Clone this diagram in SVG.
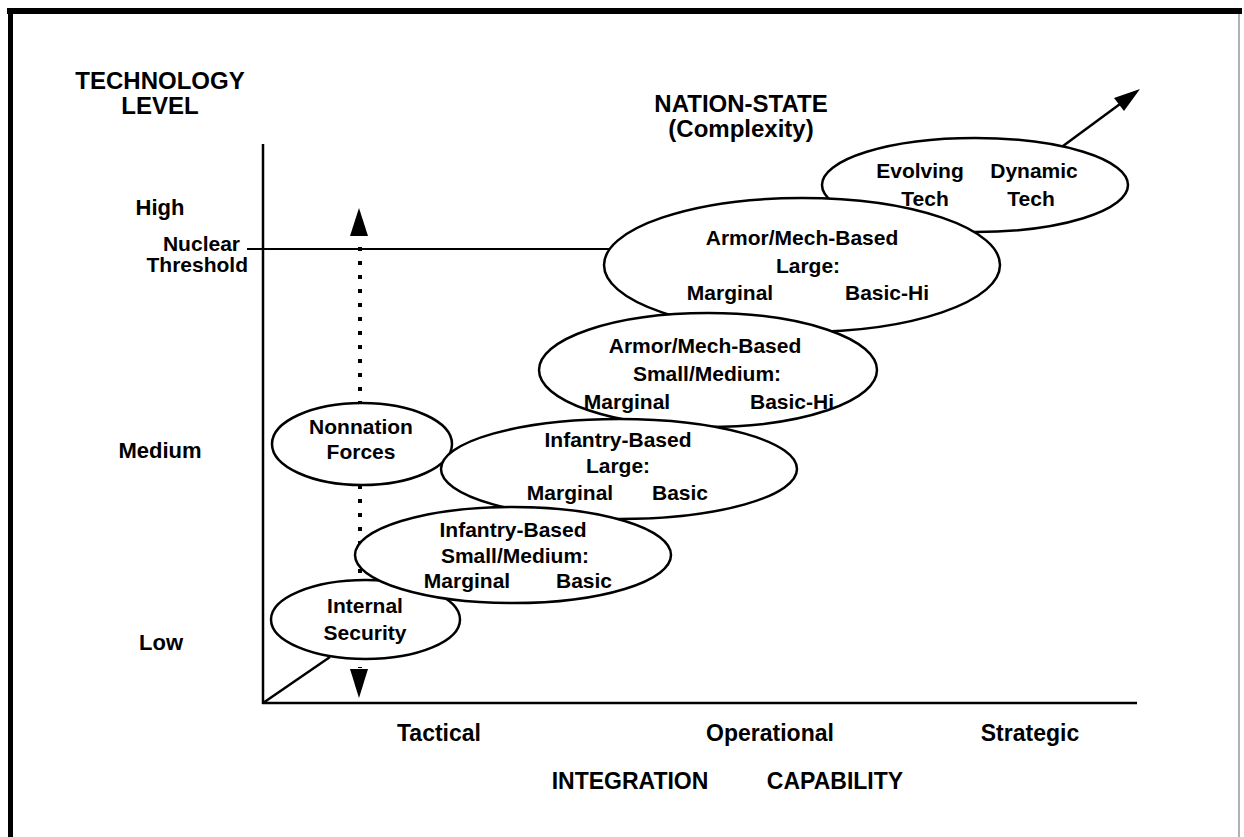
<svg xmlns="http://www.w3.org/2000/svg" width="1244" height="837" viewBox="0 0 1244 837">
<defs>
<style>
.t{font-family:"Liberation Sans",Arial,sans-serif;font-weight:bold;font-size:21px;fill:#000}
.h{font-size:23px}
.c{text-anchor:middle}
.r{text-anchor:end}
.e{fill:#fff;stroke:#000;stroke-width:2.5}
.ln{stroke:#000;stroke-width:2.5;fill:none}
</style>
</defs>
<rect width="1244" height="837" fill="#fff"/>
<g id="frame">
<line x1="7" y1="11" x2="1242" y2="11" stroke="#000" stroke-width="6"/>
<line x1="10.5" y1="8" x2="10.5" y2="837" stroke="#000" stroke-width="5"/>
<line x1="1239" y1="14" x2="1239" y2="837" stroke="#999" stroke-width="1.5"/>
</g>
<g id="axes">
<line class="ln" x1="263" y1="144" x2="263" y2="704"/>
<line class="ln" x1="262" y1="703" x2="1137" y2="703"/>
<line x1="247" y1="249" x2="620" y2="249" stroke="#000" stroke-width="2"/>
</g>
<g id="connectors">
<line class="ln" x1="263" y1="703" x2="330" y2="657"/>
<line x1="360" y1="247" x2="360" y2="668" stroke="#000" stroke-width="4" stroke-dasharray="4 10"/>
<path d="M359,208 L350,236 L368,236 z" fill="#000"/>
<path d="M359,698 L350,669 L368,669 z" fill="#000"/>
<line class="ln" x1="1063" y1="146" x2="1120" y2="104"/>
<path d="M1140,89 L1114,98 L1124,111 z" fill="#000"/>
</g>
<g id="n-evolving">
<ellipse class="e" cx="975" cy="185" rx="153" ry="47"/>
</g>
<g id="n-armor-large">
<ellipse class="e" cx="802" cy="265" rx="198" ry="67"/>
</g>
<g id="n-armor-sm">
<ellipse class="e" cx="708" cy="370" rx="169" ry="57"/>
</g>
<g id="n-nonnation">
<ellipse class="e" cx="362" cy="444" rx="90" ry="41"/>
</g>
<g id="n-inf-large">
<ellipse class="e" cx="619" cy="469" rx="178" ry="50"/>
</g>
<g id="n-internal">
<ellipse class="e" cx="365.5" cy="619.5" rx="94.5" ry="39.5"/>
</g>
<g id="n-inf-sm">
<ellipse class="e" cx="513" cy="555" rx="158" ry="48"/>
</g>
<g id="labels" class="t">
<text class="c" x="160" y="89" font-size="24">TECHNOLOGY</text>
<text class="c" x="160" y="114" font-size="24">LEVEL</text>
<text class="c" x="741" y="112" font-size="24">NATION-STATE</text>
<text class="c" x="741" y="137" font-size="24">(Complexity)</text>
<text class="c" x="160" y="215" font-size="22">High</text>
<text class="r" x="240" y="251">Nuclear</text>
<text class="r" x="248" y="272">Threshold</text>
<text class="c" x="160" y="458" font-size="22">Medium</text>
<text class="c" x="161" y="650" font-size="22">Low</text>
<text class="c h" x="439" y="741">Tactical</text>
<text class="c h" x="770" y="741">Operational</text>
<text class="c h" x="1030" y="741">Strategic</text>
<text class="c h" x="630" y="789">INTEGRATION</text>
<text class="c h" x="835" y="789">CAPABILITY</text>
<text class="c" x="920" y="178">Evolving</text>
<text class="c" x="1034" y="178">Dynamic</text>
<text class="c" x="925" y="206">Tech</text>
<text class="c" x="1031" y="206">Tech</text>
<text class="c" x="802" y="245">Armor/Mech-Based</text>
<text class="c" x="808" y="273">Large:</text>
<text class="c" x="730" y="300">Marginal</text>
<text class="c" x="887" y="300">Basic-Hi</text>
<text class="c" x="705" y="353">Armor/Mech-Based</text>
<text class="c" x="707" y="381">Small/Medium:</text>
<text class="c" x="627" y="409">Marginal</text>
<text class="c" x="792" y="409">Basic-Hi</text>
<text class="c" x="361" y="434">Nonnation</text>
<text class="c" x="361" y="459">Forces</text>
<text class="c" x="618" y="447">Infantry-Based</text>
<text class="c" x="618" y="473">Large:</text>
<text class="c" x="570" y="500">Marginal</text>
<text class="c" x="680" y="500">Basic</text>
<text class="c" x="513" y="537">Infantry-Based</text>
<text class="c" x="515" y="563">Small/Medium:</text>
<text class="c" x="467" y="588">Marginal</text>
<text class="c" x="584" y="588">Basic</text>
<text class="c" x="365" y="613">Internal</text>
<text class="c" x="365" y="640">Security</text>
</g>
</svg>
